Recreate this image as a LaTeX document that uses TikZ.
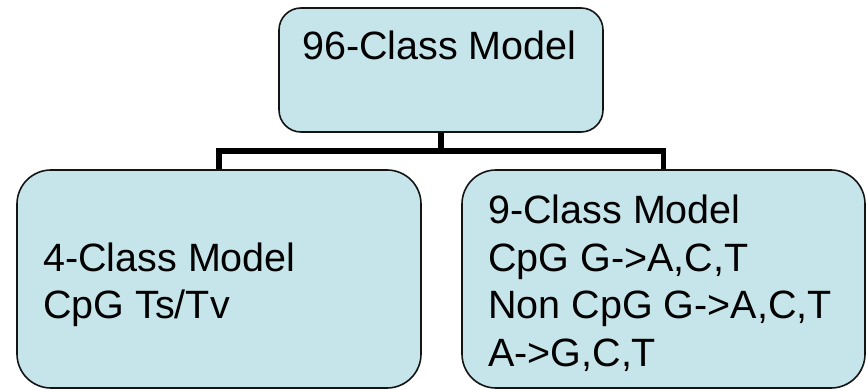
\documentclass[tikz,border=0pt]{standalone}
\usepackage{fontspec}
\setmainfont{Liberation Sans}
\definecolor{boxfill}{RGB}{198,229,234}
\definecolor{boxline}{RGB}{20,20,20}
\tikzset{
  modelbox/.style={draw=boxline, line width=1.6pt, fill=boxfill, inner sep=0pt, rectangle, rounded corners=#1},
  modelbox/.default=34pt,
  linetext/.style={anchor=base west, inner sep=0pt, font=\fontsize{39.5}{47.5}\selectfont},
  conn/.style={draw=black, line width=5.3pt, line join=miter}
}
\begin{document}
\begin{tikzpicture}[x=1pt,y=-1pt]
  \useasboundingbox (0,0) rectangle (867,390);

  % boxes
  \node[modelbox=22pt, minimum width=324pt, minimum height=124pt] (top) at (441,70) {};
  \node[modelbox, minimum width=404pt, minimum height=218pt] (left) at (219,279) {};
  \node[modelbox, minimum width=403pt, minimum height=218pt] (right) at (663.5,279) {};

  % tree connector
  \coordinate (bus) at (441,151);
  \draw[conn] (top.south) -- (bus);
  \draw[conn] (left.north) |- (bus) -| (right.north);

  % labels
  \node[linetext] (t1) at (302,60) {96-Class Model};

  \node[linetext] (l1) at (43,271) {4-Class Model};
  \node[linetext] (l2) at (43,318) {CpG Ts/Tv};

  \node[linetext] (r1) at (488,223) {9-Class Model};
  \node[linetext] (r2) at (488,271) {CpG G->A,C,T};
  \node[linetext] (r3) at (488,318) {Non CpG G->A,C,T};
  \node[linetext] (r4) at (488,366) {A->G,C,T};
\end{tikzpicture}
\end{document}
